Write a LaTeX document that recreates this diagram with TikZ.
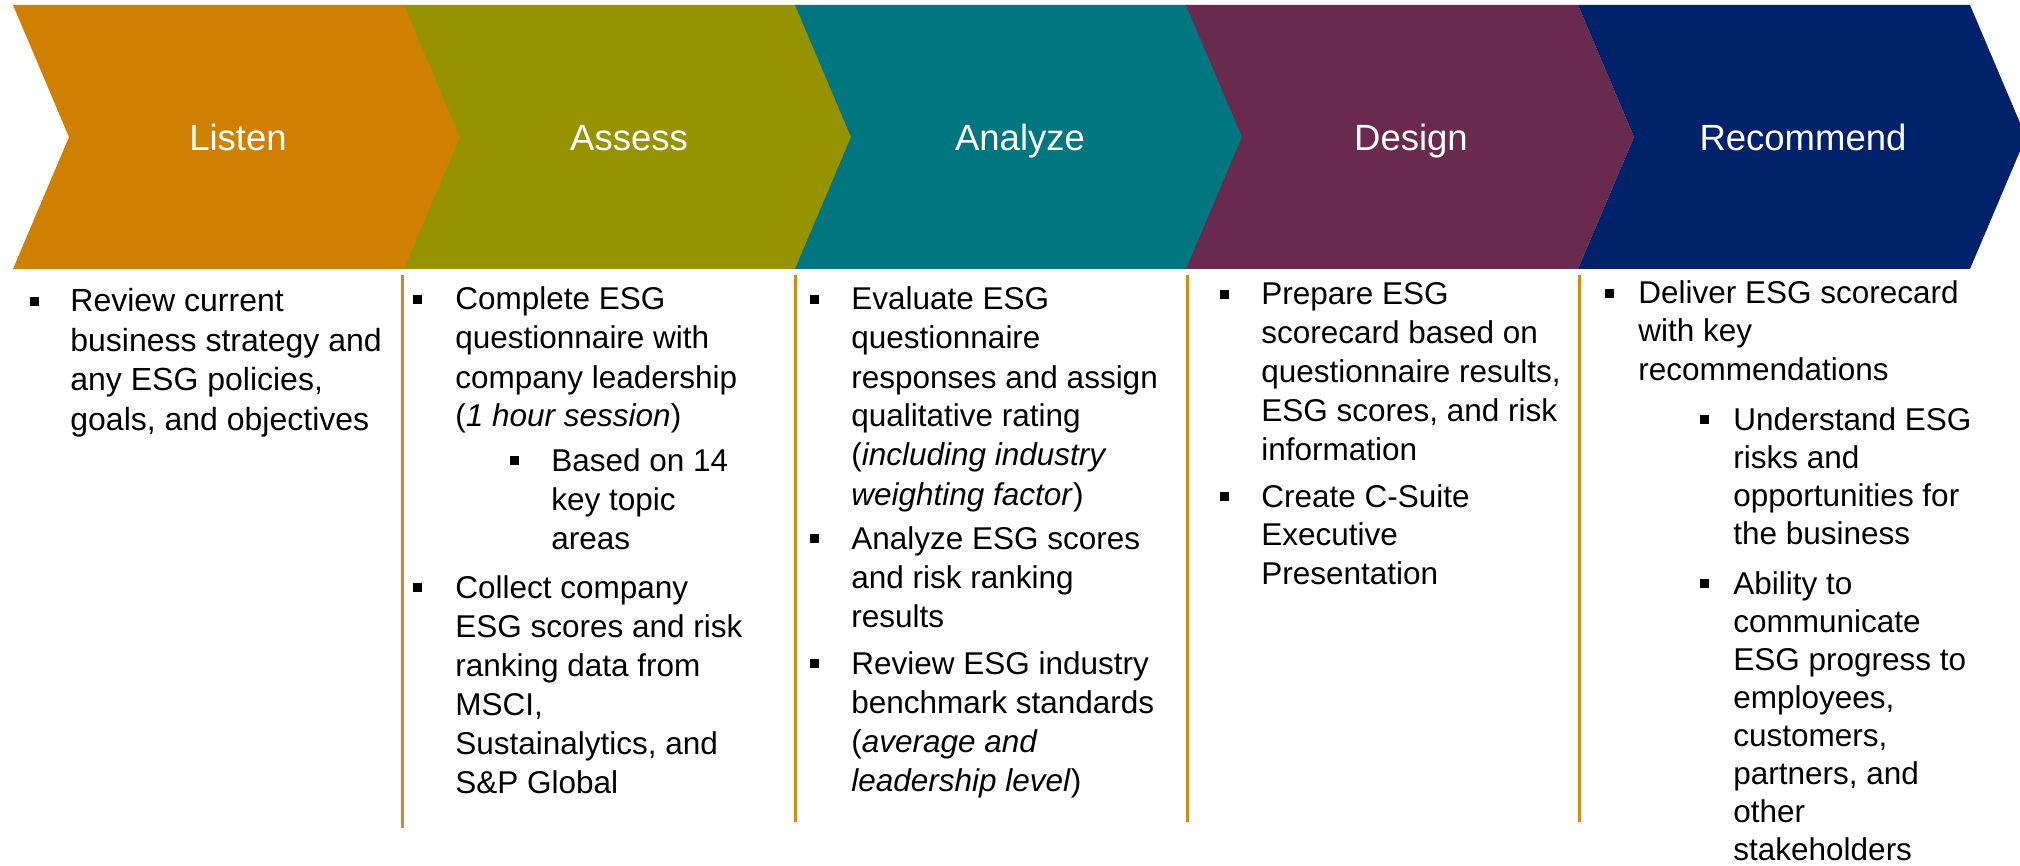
\documentclass[tikz,border=0pt]{standalone}
\usepackage{fontspec}
\setmainfont{Liberation Sans}
\definecolor{cListen}{HTML}{CF8000}
\definecolor{cAssess}{HTML}{979300}
\definecolor{cAnalyze}{HTML}{007680}
\definecolor{cDesign}{HTML}{6A2A4D}
\definecolor{cRecommend}{HTML}{00226B}
\definecolor{cLine}{HTML}{D48A1A}
\tikzset{
  phase/.style={text=white, font=\fontsize{18.25}{22}\selectfont, anchor=base, inner sep=0pt},
  bodyA/.style={font=\fontsize{16}{19}\selectfont, anchor=base west, inner sep=0pt, text=black},
  bodyB/.style={font=\fontsize{15.75}{19}\selectfont, anchor=base west, inner sep=0pt, text=black},
  sepline/.style={draw=cLine, line width=1.5pt},
  bulletsq/.style={fill=black},
}
\newcommand{\chevron}[4]{%
  \fill[#3] (#2,5) -- ++(392,0) -- ++(56,132) -- ++(-56,132) -- ++(-392,0) -- ++(56,-132) -- cycle;
  \node[phase] (#1) at ({#2+225},151) {#4};
}
\newcommand{\bul}[2]{\fill[bulletsq] (#1,{#2-15}) rectangle ++(9,9);}
\newcommand{\txtlines}[6]{%
  \foreach [count=\i from 0] \t in {#6} {\node[#2] (#1\i) at (#3,{#4+#5*\i}) {\t};}
}
\begin{document}
\begin{tikzpicture}[x=0.5pt,y=-0.5pt]
\useasboundingbox (0,0) rectangle (2020,866);
\clip (0,0) rectangle (2020,866);
% chevrons
\chevron{listen}{13}{cListen}{Listen}
\chevron{assess}{404}{cAssess}{Assess}
\chevron{analyze}{795}{cAnalyze}{Analyze}
\chevron{design}{1186}{cDesign}{Design}
\chevron{recommend}{1578}{cRecommend}{Recommend}
% separators
\coordinate (s2t) at (402,275); \coordinate (s2b) at (402,828);
\coordinate (s3t) at (795,275); \coordinate (s3b) at (795,822);
\coordinate (s4t) at (1187,275); \coordinate (s4b) at (1187,822);
\coordinate (s5t) at (1579,275); \coordinate (s5b) at (1579,822);
\draw[sepline] (s2t) -- (s2b);
\draw[sepline] (s3t) -- (s3b);
\draw[sepline] (s4t) -- (s4b);
\draw[sepline] (s5t) -- (s5b);
% column 1
\bul{30}{312}
\txtlines{a}{bodyA}{70}{312}{39.5}{Review current,business strategy and,{any ESG policies,},{goals, and objectives}}
% column 2
\bul{413}{310}
\txtlines{b}{bodyB}{455}{310}{39}{Complete ESG,questionnaire with,company leadership,{(\textit{1 hour session})}}
\bul{510}{471}
\txtlines{bs}{bodyB}{551}{471}{39}{Based on 14,key topic,areas}
\bul{413}{598}
\txtlines{bc}{bodyB}{455}{598}{39}{Collect company,ESG scores and risk,ranking data from,{MSCI,},{Sustainalytics, and},S\&P Global}
% column 3
\bul{810}{310}
\txtlines{c}{bodyB}{851}{310}{39}{Evaluate ESG,questionnaire,responses and assign,qualitative rating,{(\textit{including industry}},{\textit{weighting factor})}}
\bul{810}{549}
\txtlines{ca}{bodyB}{851}{549}{39}{Analyze ESG scores,and risk ranking,results}
\bul{810}{674}
\txtlines{cr}{bodyB}{851}{674}{39}{Review ESG industry,benchmark standards,{(\textit{average and}},{\textit{leadership level})}}
% column 4
\bul{1220}{305}
\txtlines{d}{bodyB}{1261}{305}{38.8}{Prepare ESG,scorecard based on,{questionnaire results,},{ESG scores, and risk},information}
\bul{1220}{507}
\txtlines{dc}{bodyB}{1261}{507}{38.8}{Create C-Suite,Executive,Presentation}
% column 5
\bul{1605}{304}
\txtlines{e}{bodyB}{1638}{304}{38}{Deliver ESG scorecard,with key,recommendations}
\bul{1700}{430}
\txtlines{eu}{bodyB}{1733}{430}{38}{Understand ESG,risks and,opportunities for,the business}
\bul{1700}{594}
\txtlines{ea}{bodyB}{1733}{594}{38}{Ability to,communicate,ESG progress to,{employees,},{customers,},{partners, and},other,stakeholders}
\end{tikzpicture}
\end{document}
